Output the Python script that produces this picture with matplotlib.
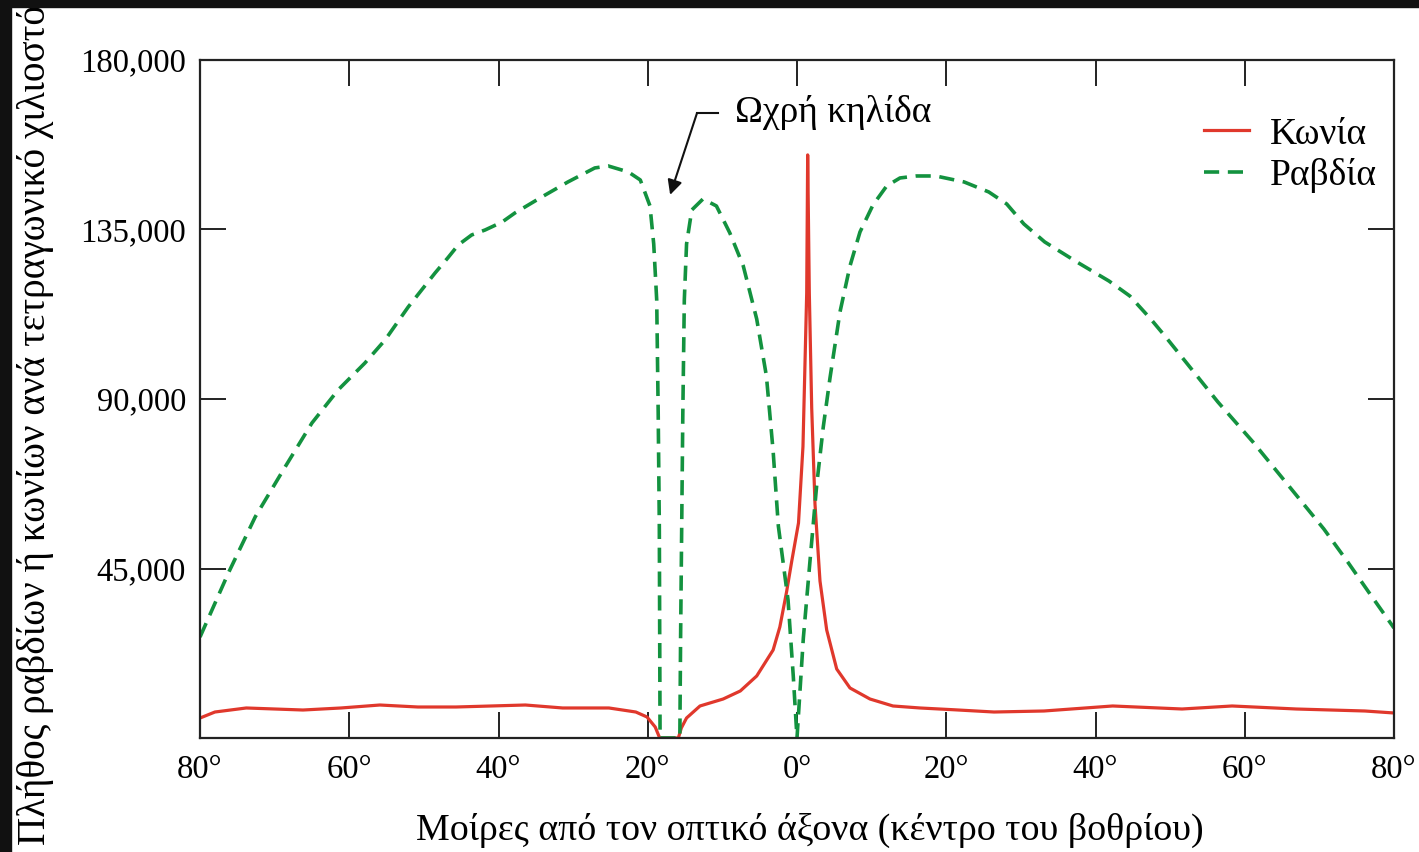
import matplotlib
matplotlib.use("Agg")
import matplotlib.pyplot as plt
from matplotlib.patches import Rectangle
from matplotlib.ticker import FuncFormatter

plt.rcParams['font.family'] = ['Liberation Serif', 'DejaVu Serif']

# Κωνία (cones): degrees from the optic axis vs. count per mm²
cone_deg = [-80.0, -78.0, -73.8, -66.2, -61.1, -55.9, -50.8, -45.7, -36.4, -31.4,
            -25.2, -21.6, -20.1, -19.0, -18.4, -15.9, -15.5, -14.8, -13.0, -9.9,
            -7.6, -5.4, -3.2, -2.3, -1.4, -0.7, 0.2, 0.8, 1.3, 1.43, 1.65, 1.97,
            2.41, 3.08, 3.98, 5.32, 7.10, 9.78, 12.86, 16.48, 21.0, 26.4, 33.1,
            42.3, 51.6, 58.3, 66.9, 76.1, 80.0]
cone_val = [5300, 6900, 7970, 7430, 7970, 8760, 8230, 8230, 8760, 7970,
            7970, 6900, 5580, 2920, 0, 0, 2660, 5310, 8500, 10350,
            12480, 16460, 23360, 29470, 38760, 47000, 57080, 77390, 118150, 154800, 118150, 87620,
            62130, 41680, 28670, 18320, 13280, 10350, 8500, 7970, 7500, 6900, 7170,
            8500, 7700, 8500, 7700, 7170, 6640]

# Ραβδία (rods)
rod_deg = [-80.0, -76.2, -72.6, -68.6, -65.0, -61.5, -57.9, -55.2, -52.1, -48.5,
           -46.8, -45.4, -43.6, -41.8, -39.5, -37.8, -34.2, -30.7, -27.1, -25.3,
           -22.6, -21.0, -19.7, -19.2, -18.8, -18.6, -18.45, -18.35,
           -15.7, -15.6, -15.45, -15.3, -15.1, -14.8, -14.1, -12.6, -10.8, -9.0,
           -7.2, -5.4, -4.1, -3.2, -2.5, -1.2, -0.5, 0.0,
           0.85, 1.74, 2.64, 3.52, 4.42, 5.76, 7.10, 8.44, 10.18, 12.02, 13.8, 16.0,
           18.6, 22.4, 25.7, 28.1, 30.4, 33.2, 37.5, 41.8, 44.6, 47.4, 49.3, 52.1,
           56.4, 61.1, 65.8, 70.6, 73.8, 76.6, 80.0]
rod_val = [26800, 43800, 58700, 71950, 83630, 92390, 99560, 105670, 114430, 123460,
           127450, 130890, 133550, 134870, 137000, 139390, 143640, 147620, 151340, 151870,
           150280, 148150, 141250, 131160, 116290, 86290, 56290, 0,
           0, 26280, 56290, 86290, 116290, 131160, 140180, 143100, 141250, 134080,
           125320, 111240, 96110, 76200, 56290, 36640, 16460, 0,
           26550, 46990, 67170, 82570, 95580, 113100, 125320, 134340, 141510, 146560, 148680, 149210,
           149210, 147620, 144960, 141780, 136470, 131690, 126380, 121330, 117350, 111240, 106730, 99830,
           89210, 78590, 67170, 55490, 46730, 38760, 29200]

x_ticks = [-80, -60, -40, -20, 0, 20, 40, 60, 80]
y_ticks = [45000, 90000, 135000, 180000]

fig = plt.figure(figsize=(14.19, 8.52), dpi=100)
ax = fig.add_axes([200 / 1419, 114 / 852, 1194 / 1419, 678 / 852])

ax.plot(cone_deg, cone_val, color='#e0382c', lw=2.3, label='Κωνία', solid_joinstyle='round')
ax.plot(rod_deg, rod_val, color='#13923f', lw=2.6, linestyle=(0, (4.2, 2.4)), label='Ραβδία')

ax.set_xlim(-80, 80)
ax.set_ylim(0, 180000)
ax.set_xticks(x_ticks)
ax.set_yticks(y_ticks)
ax.xaxis.set_major_formatter(FuncFormatter(lambda v, p: f"{abs(v):.0f}°"))
ax.yaxis.set_major_formatter(FuncFormatter(lambda v, p: f"{v:,.0f}"))
ax.tick_params(direction='in', length=19, width=1.4, top=True, right=True,
               labelsize=23.5, color='#222222')
ax.tick_params(axis='x', pad=12)
ax.tick_params(axis='y', pad=10)
for s in ax.spines.values():
    s.set_linewidth(1.6)
    s.set_color('#222222')

fig.text(810 / 1419, 12 / 852, 'Μοίρες από τον οπτικό άξονα (κέντρο του βοθρίου)',
         ha='center', va='baseline', fontsize=27.3)
fig.text(36 / 1419, 7 / 852, 'Πλήθος ραβδίων ή κωνίων ανά τετραγωνικό χιλιοστό',
         rotation=90, ha='center', va='bottom', fontsize=28.3)

# blind spot annotation
ax.text(-8.3, 166000, 'Ωχρή κηλίδα', fontsize=27, ha='left', va='center')
ax.plot([-10.6, -13.4], [165900, 165900], color='#111111', lw=1.5)
ax.annotate('', xy=(-17.0, 144200), xytext=(-13.4, 165900),
            arrowprops=dict(arrowstyle='-|>', color='#111111', lw=1.5, mutation_scale=22,
                            shrinkA=0, shrinkB=0))

ax.legend(loc='upper right', bbox_to_anchor=(0.998, 0.938), frameon=False, fontsize=27,
          handlelength=1.2, handletextpad=0.55, labelspacing=0.17, borderaxespad=0)

# dark border strips along the top and left edge of the picture
fig.patches.append(Rectangle((0, 1 - 7 / 852), 1, 7 / 852, transform=fig.transFigure,
                             color='#111111', zorder=10))
fig.patches.append(Rectangle((0, 0), 11 / 1419, 1, transform=fig.transFigure,
                             color='#111111', zorder=10))

fig.savefig('out.png', dpi=100)
